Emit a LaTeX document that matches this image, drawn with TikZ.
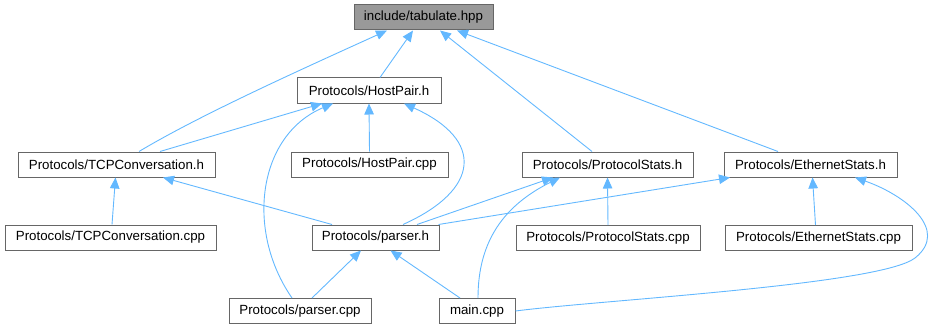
\documentclass[tikz,border=0pt]{standalone}
\usepackage{fontspec}
\setmainfont{Liberation Sans}
\usetikzlibrary{arrows.meta}
\definecolor{edgeblue}{HTML}{63B8FF}
\definecolor{boxline}{HTML}{666666}
\definecolor{rootfill}{HTML}{999999}
\begin{document}
\begin{tikzpicture}[x=1pt,y=-1pt,
  filebox/.style={draw=boxline, fill=white, line width=1pt, minimum height=25pt,
    inner sep=0pt, font=\fontsize{13.3}{16}\selectfont, text=black},
  rootbox/.style={filebox, fill=rootfill},
  dep/.style={draw=edgeblue, line width=0.9pt, -{Triangle[length=11pt,width=9.5pt]}}]
\useasboundingbox (0,0) rectangle (937,329);

% files
\node[rootbox, minimum width=139pt] (tab) at (423.5,17.5) {include/tabulate.hpp};
\node[filebox, minimum width=144pt] (hp) at (369,90.5) {Protocols/HostPair.h};
\node[filebox, minimum width=197pt] (tcph) at (116.5,164.5) {Protocols/TCPConversation.h};
\node[filebox, minimum width=157pt] (hpcpp) at (369.5,164.5) {Protocols/HostPair.cpp};
\node[filebox, minimum width=171pt] (psh) at (607.5,164.5) {Protocols/ProtocolStats.h};
\node[filebox, minimum width=173pt] (esh) at (810.5,164.5) {Protocols/EthernetStats.h};
\node[filebox, minimum width=211pt] (tcpcpp) at (110.5,237.5) {Protocols/TCPConversation.cpp};
\node[filebox, minimum width=127pt] (parserh) at (375.5,237.5) {Protocols/parser.h};
\node[filebox, minimum width=184pt] (pscpp) at (608,238) {Protocols/ProtocolStats.cpp};
\node[filebox, minimum width=187pt] (escpp) at (818.5,238) {Protocols/EthernetStats.cpp};
\node[filebox, minimum width=142pt] (parsercpp) at (300,311) {Protocols/parser.cpp};
\node[filebox, minimum width=76pt] (main) at (477,311) {main.cpp};

% include edges (arrow points at the included file)
\draw[dep] ([xshift=22.5pt]tcph.north) .. controls (200,115) and (300,70) .. ([xshift=-36.5pt]tab.south);
\draw[dep] ([xshift=11pt]hp.north) -- ([xshift=-10.5pt]tab.south);
\draw[dep] ([xshift=-15.5pt]psh.north) -- ([xshift=16.5pt]tab.south);
\draw[dep] ([xshift=-32.5pt]esh.north) -- ([xshift=33.5pt]tab.south);

\draw[dep] ([xshift=43.5pt]tcph.north) -- ([xshift=-47pt]hp.south);
\draw[dep] ([xshift=-8pt]parsercpp.north) .. controls (245,230) and (258,135) .. ([xshift=-36pt]hp.south);
\draw[dep] (hpcpp.north) -- (hp.south);
\draw[dep] ([xshift=27.5pt]parserh.north) .. controls (480,190) and (485,140) .. ([xshift=35pt]hp.south);

\draw[dep] ([xshift=1.5pt]tcpcpp.north) -- ([xshift=-1pt]tcph.south);
\draw[dep] ([xshift=-43.5pt]parserh.north) -- ([xshift=46.5pt]tcph.south);

\draw[dep] ([xshift=41.5pt]parserh.north) -- ([xshift=-54.5pt]psh.south);
\draw[dep] ([xshift=1pt]main.north) .. controls (478,240) and (505,205) .. ([xshift=-47.5pt]psh.south);
\draw[dep] (pscpp.north) -- (psh.south);

\draw[dep] ([xshift=-1pt]parserh.north east) -- ([xshift=-80.5pt]esh.south);
\draw[dep] ([xshift=-3pt]escpp.north) -- ([xshift=2pt]esh.south);
\draw[dep] (main.east) .. controls (600,300) and (880,285) .. (915,258)
  .. controls (950,230) and (905,195) .. ([xshift=44.5pt]esh.south);

\draw[dep] ([xshift=12pt]parsercpp.north) -- ([xshift=-14.5pt]parserh.south);
\draw[dep] ([xshift=-17pt]main.north) -- ([xshift=15pt]parserh.south);
\end{tikzpicture}
\end{document}
